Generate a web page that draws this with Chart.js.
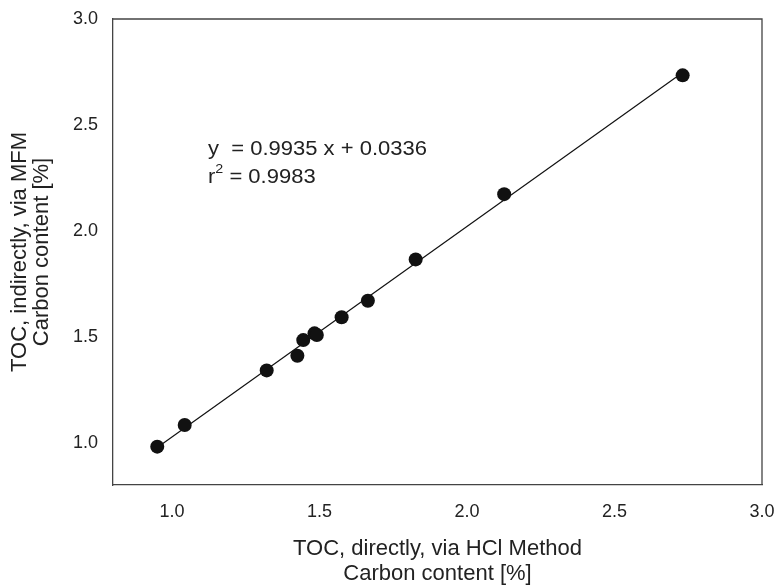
<!DOCTYPE html>
<html><head><meta charset="utf-8">
<script src="https://cdn.jsdelivr.net/npm/chart.js@4/dist/chart.umd.min.js"></script>
<style>html,body{margin:0;padding:0;background:#fff}#wrap{width:775px;height:587px}</style>
</head><body><div id="wrap"><canvas id="c" width="775" height="587"></canvas></div>
<script>
// Measured data: TOC direct (HCl) vs TOC indirect (MFM)
const tocDirect   = [0.95, 1.043, 1.321, 1.425, 1.445, 1.483, 1.491, 1.575, 1.664, 1.826, 2.126, 2.731];
const tocIndirect = [0.981, 1.083, 1.341, 1.410, 1.484, 1.516, 1.508, 1.592, 1.670, 1.865, 2.173, 2.734];
// Regression line endpoints
const fitX = [0.95, 2.73];
const fitY = [0.977, 2.746];
const xTicks = [1.0, 1.5, 2.0, 2.5, 3.0];
const yTicks = [1.0, 1.5, 2.0, 2.5, 3.0];
const eqLine1 = "y  = 0.9935 x + 0.0336";
const eqLine2 = ["r", "2", " = 0.9983"];

const FONT = "'Liberation Sans', Arial, sans-serif";
const AXIS = "#444";
const TXT = "#222";

const annot = {
  id: 'annot',
  afterDraw(chart) {
    const ctx = chart.ctx, xs = chart.scales.x, ys = chart.scales.y, a = chart.chartArea;
    ctx.save();
    // frame top/right
    ctx.strokeStyle = AXIS; ctx.lineWidth = 1.3;
    ctx.beginPath();
    ctx.moveTo(a.left, a.top); ctx.lineTo(a.right, a.top); ctx.lineTo(a.right, a.bottom);
    ctx.stroke();
    ctx.restore();
    // equation text (horizontally widened like the reference)
    const SX = 1.1;
    const x0 = xs.getPixelForValue(1.122);
    const drawT = (t, x, y, size) => {
      ctx.save();
      ctx.translate(x, y); ctx.scale(SX, 1);
      ctx.font = size + "px " + FONT; ctx.fillStyle = TXT;
      ctx.textBaseline = 'middle'; ctx.textAlign = 'left';
      ctx.fillText(t, 0, 0);
      const w = ctx.measureText(t).width * SX;
      ctx.restore();
      return w;
    };
    drawT(eqLine1, x0, ys.getPixelForValue(2.383), 20);
    const y2 = ys.getPixelForValue(2.250);
    let x = x0;
    x += drawT(eqLine2[0], x, y2, 20);
    x += drawT(eqLine2[1], x, y2 - 8, 13);
    drawT(eqLine2[2], x, y2, 20);
  }
};

new Chart(document.getElementById('c'), {
  type: 'scatter',
  data: {
    datasets: [
      { label: 'fit', type: 'line', data: fitX.map((v,i)=>({x:v,y:fitY[i]})),
        borderColor: '#111', borderWidth: 1.2, pointRadius: 0, fill: false, order: 2 },
      { label: 'samples', data: tocDirect.map((v,i)=>({x:v,y:tocIndirect[i]})),
        backgroundColor: '#111', borderColor: '#111', borderWidth: 0,
        pointRadius: 7, pointHoverRadius: 7, order: 1 }
    ]
  },
  options: {
    responsive: false, animation: false, devicePixelRatio: 1,
    layout: { padding: { top: 19, right: 13, left: 0, bottom: 0 } },
    plugins: { legend: { display: false }, tooltip: { enabled: false } },
    scales: {
      x: {
        type: 'linear', min: 0.8, max: 3.0,
        afterBuildTicks: s => { s.ticks = xTicks.map(v => ({ value: v })); },
        afterFit: s => { s.height = 102; s.paddingLeft = 0; s.paddingRight = 0; },
        grid: { display: false, drawTicks: true, tickLength: 7, color: AXIS, tickWidth: 1.3 },
        border: { display: true, color: AXIS, width: 1.3 },
        ticks: { color: TXT, font: { family: FONT, size: 18 }, padding: 9,
                 callback: v => v.toFixed(1), maxRotation: 0 },
        title: { display: true, text: ['TOC, directly, via HCl Method', 'Carbon content [%]'],
                 color: TXT, font: { family: FONT, size: 22, lineHeight: 1.16 }, padding: { top: 0, bottom: 0 } }
      },
      y: {
        type: 'linear', min: 0.8, max: 3.0,
        afterBuildTicks: s => { s.ticks = yTicks.map(v => ({ value: v })); },
        afterFit: s => { s.width = 113; s.paddingTop = 0; s.paddingBottom = 0; },
        grid: { display: false, drawTicks: true, tickLength: 6, color: AXIS, tickWidth: 1.3 },
        border: { display: true, color: AXIS, width: 1.3 },
        ticks: { color: TXT, font: { family: FONT, size: 18 }, padding: 9,
                 callback: v => v.toFixed(1) },
        title: { display: true, text: ['TOC, indirectly, via MFM', 'Carbon content [%]'],
                 color: TXT, font: { family: FONT, size: 22, lineHeight: 1.0 }, padding: { top: 9, bottom: 0 } }
      }
    }
  },
  plugins: [annot]
});
</script></body></html>
